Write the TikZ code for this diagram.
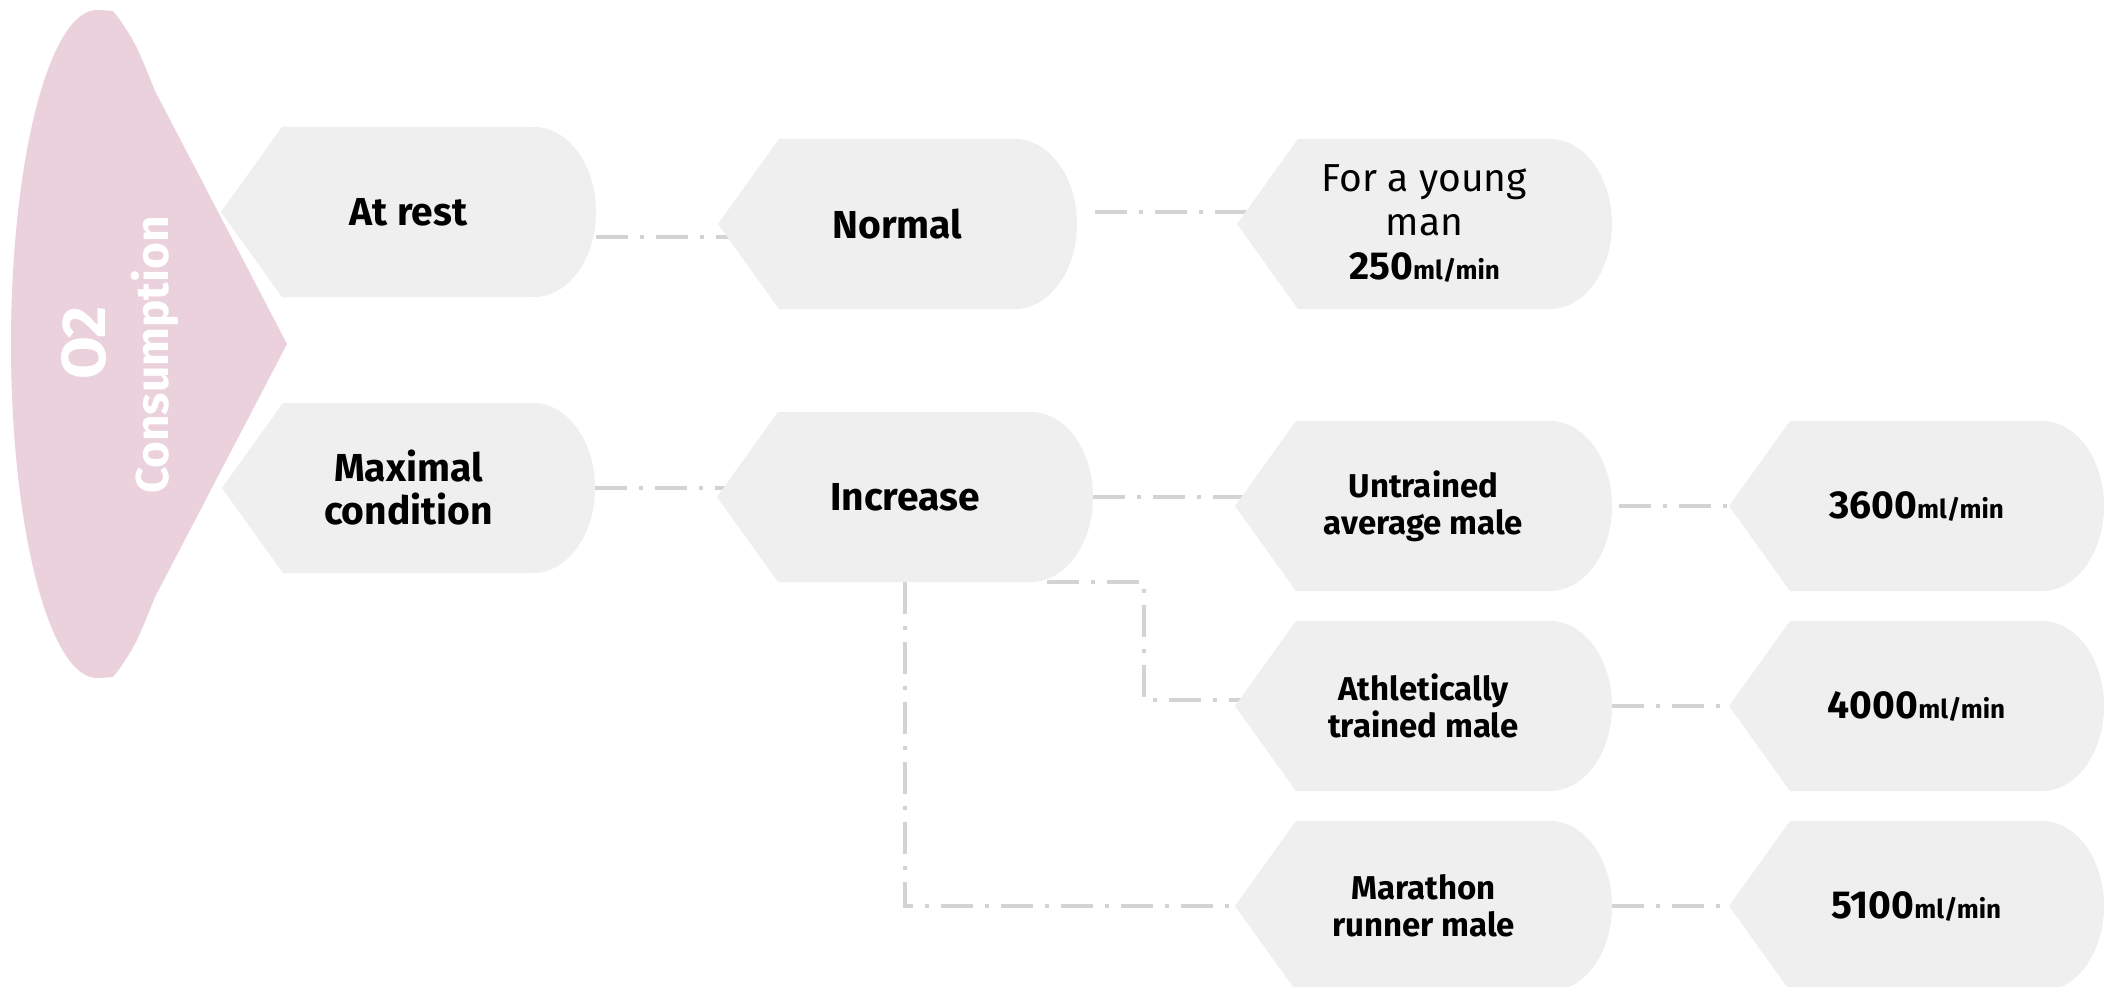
\documentclass[tikz,border=0pt]{standalone}
\usepackage{fontspec}
\setmainfont{Fira Sans}
\usetikzlibrary{calc}
\pgfdeclarelayer{bglayer}
\pgfdeclarelayer{connlayer}
\pgfdeclarelayer{shapelayer}
\pgfsetlayers{bglayer,connlayer,shapelayer,main}
\definecolor{pinkfill}{HTML}{EAD1DC}
\definecolor{boxgray}{HTML}{EFEFEF}
\definecolor{conngray}{HTML}{D3D3D3}
\tikzset{
  tagbox/.style={minimum width=#1, minimum height=170pt, inner sep=0pt, outer sep=0pt, align=center, text=black},
  conn/.style={draw=conngray, line width=3.5pt, dash pattern=on 32pt off 12pt on 4pt off 12pt},
  bigtext/.style={font=\fontsize{39}{43}\selectfont\bfseries},
  midtext/.style={font=\fontsize{33}{37}\selectfont\bfseries},
  valtext/.style={font=\fontsize{39}{42}\selectfont\bfseries},
  lighttext/.style={font=\fontsize{39}{44}\selectfont},
}
\newcommand\mlmin{{\fontsize{26}{26}\selectfont ml/min}}
\newcommand\tagshape[1]{\fill[boxgray] (#1.west) -- ([xshift=61pt]#1.north west) -- ([xshift=-62pt]#1.north east) arc[start angle=90,end angle=-90,x radius=62pt,y radius=85pt] -- ([xshift=61pt]#1.south west) -- cycle;}
\begin{document}
\begin{tikzpicture}[x=1pt,y=1pt]
\begin{pgfonlayer}{bglayer}
\fill[white] (0,0) rectangle (2111,-987);
\end{pgfonlayer}
\useasboundingbox (0,0) rectangle (2111,-987);

% boxes
\node[tagbox=375pt, bigtext] (AtRest) at (408.5,-212) {At rest};
\node[tagbox=373pt, bigtext] (Maximal) at (408.5,-488) {Maximal\\condition};
\node[tagbox=359pt, bigtext] (Normal) at (897.5,-224) {Normal};
\node[tagbox=376pt, bigtext] (Increase) at (905,-497) {Increase};
\node[tagbox=375pt, lighttext] (Young) at (1424.5,-224) {For a young\\man\\{\bfseries 250\mlmin}};
\node[tagbox=377pt, midtext] (Untrained) at (1423.5,-506) {Untrained\\average male};
\node[tagbox=377pt, midtext] (Athletic) at (1423.5,-706) {Athletically\\trained male};
\node[tagbox=377pt, midtext] (Marathon) at (1423.5,-906) {Marathon\\runner male};
\node[tagbox=375pt, valtext] (V3600) at (1916.5,-506) {3600\mlmin};
\node[tagbox=375pt, valtext] (V4000) at (1916.5,-706) {4000\mlmin};
\node[tagbox=375pt, valtext] (V5100) at (1916.5,-906) {5100\mlmin};

% side label
\node[rotate=90, anchor=base, text=white, font=\fontsize{62}{62}\selectfont\bfseries] (Otwo) at (105,-343) {O2};
\node[rotate=90, anchor=base, text=white, font=\fontsize{46}{46}\selectfont\bfseries] (Cons) at (168,-355) {Consumption};

\begin{pgfonlayer}{shapelayer}
\foreach \n in {AtRest,Maximal,Normal,Increase,Young,Untrained,Athletic,Marathon,V3600,V4000,V5100} {\tagshape{\n}}
\fill[pinkfill] (97,-344) ellipse[x radius=86, y radius=334];
\fill[pinkfill] (100,-10) -- (113,-11) .. controls (128,-28) and (143,-60) .. (155,-91) -- (287,-344) -- (155,-597) .. controls (143,-628) and (128,-660) .. (113,-677) -- (100,-678) -- cycle;
\end{pgfonlayer}

\begin{pgfonlayer}{connlayer}
\coordinate (c1s) at ([yshift=-25pt]AtRest.east);
\draw[conn] (c1s) -- (c1s -| Normal.center);
\draw[conn] (Maximal.east) -- (Maximal.east -| Increase.center);
\coordinate (c3s) at ([xshift=18pt,yshift=12pt]Normal.east);
\draw[conn] (c3s) -- (c3s -| Young.center);
\draw[conn] (Increase.east) -- (Increase.east -| Untrained.center);
\coordinate (c5s) at ([xshift=142pt]Increase.south);
\draw[conn] (c5s) -- ++(97,0) |- ([yshift=6pt]Athletic.center);
\draw[conn] (Increase.south) |- (Marathon.center);
\coordinate (c7s) at ([xshift=7pt]Untrained.east);
\draw[conn] (c7s) -- (c7s -| V3600.center);
\draw[conn] (Athletic.east) -- (Athletic.east -| V4000.center);
\draw[conn] (Marathon.east) -- (Marathon.east -| V5100.center);
\end{pgfonlayer}
\end{tikzpicture}
\end{document}
